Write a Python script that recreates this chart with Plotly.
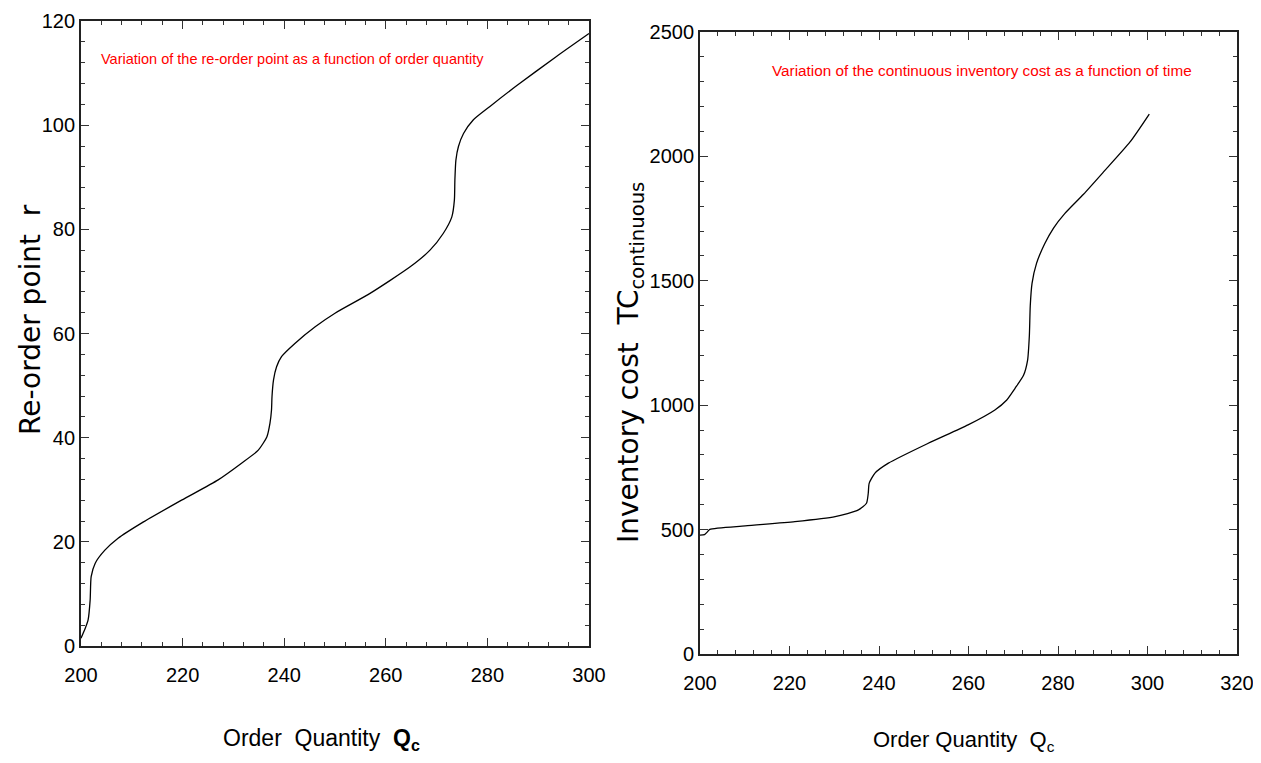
import plotly.graph_objects as go

# ---------------- data ----------------
q_left = [200.0, 200.8, 201.4, 201.8, 202.0, 202.8, 204.7, 207.3, 211.9, 219.8,
          227.0, 231.6, 234.9, 236.6, 237.2, 237.5, 237.6, 237.9, 238.5, 239.5,
          242.1, 246.1, 250.0, 256.9, 264.8, 268.7, 271.3, 273.0, 273.5, 273.6,
          273.8, 274.3, 275.3, 277.2, 280.5, 285.8, 293.6, 300.0]
r_left = [1.5, 3.3, 5.0, 8.8, 13.3, 15.9, 18.4, 20.7, 23.6, 28.0,
          31.9, 35.1, 37.6, 40.2, 42.8, 45.3, 47.9, 51.1, 53.6, 55.6,
          58.1, 61.3, 63.9, 67.7, 72.8, 76.0, 79.2, 82.4, 85.6, 89.5,
          93.3, 95.9, 98.4, 101.0, 103.6, 107.6, 113.2, 117.6]

q_right = [200.0, 201.0, 201.6, 202.2, 210.1, 221.2, 230.2, 235.4, 237.2, 237.6,
           237.8, 239.1, 242.1, 251.0, 259.9, 265.9, 268.5, 270.4, 272.3, 273.2,
           273.6, 273.8, 274.2, 275.2, 277.0, 279.0, 281.5, 285.7, 290.0, 296.1,
           300.4]
tc_right = [478, 480, 490, 501, 515, 532, 552, 579, 606, 646,
            686, 727, 767, 847, 921, 981, 1020, 1068, 1120, 1180,
            1280, 1400, 1490, 1570, 1648, 1712, 1770, 1848, 1934, 2058,
            2170]

x_ticks_left = [200, 220, 240, 260, 280, 300]
y_ticks_left = [0, 20, 40, 60, 80, 100, 120]
x_ticks_right = [200, 220, 240, 260, 280, 300, 320]
y_ticks_right = [0, 500, 1000, 1500, 2000, 2500]

left_title = "Variation of the re-order point as a function of order quantity"
right_title = "Variation of the continuous inventory cost as a function of time"

# ---------------- figure ----------------
PAGE_OFFSET = 8          # default body margin of the html page
W, H = 1261 - 2 * PAGE_OFFSET, 763 - 2 * PAGE_OFFSET
NARROW = "Liberation Sans Narrow, Arial Narrow, Liberation Sans, Arial, sans-serif"
WIDE = "DejaVu Sans, Liberation Sans, Arial, sans-serif"

fig = go.Figure()
fig.add_trace(go.Scatter(x=q_left, y=r_left, mode="lines", xaxis="x", yaxis="y",
                         line=dict(color="black", width=1.3, shape="spline", smoothing=0.6),
                         showlegend=False, hoverinfo="skip"))
fig.add_trace(go.Scatter(x=q_right, y=tc_right, mode="lines", xaxis="x2", yaxis="y2",
                         line=dict(color="black", width=1.3, shape="spline", smoothing=0.6),
                         showlegend=False, hoverinfo="skip"))


def px_x(p):
    return (p - PAGE_OFFSET) / W


def px_y(p):
    return 1 - (p - PAGE_OFFSET) / H


minor_common = dict(ticks="inside", ticklen=4, tickwidth=1, tickcolor="#333")
axis_common = dict(
    showgrid=False, zeroline=False, showline=True, linecolor="#222", linewidth=1.8,
    mirror="ticks", ticks="inside", ticklen=8, tickwidth=1.2, tickcolor="#333",
    tickfont=dict(family=NARROW, size=20, color="black"), automargin=False,
    ticklabeloverflow="allow",
)

fig.update_layout(
    width=W, height=H,
    margin=dict(l=0, r=0, t=0, b=0, autoexpand=False),
    paper_bgcolor="white", plot_bgcolor="white",
    xaxis=dict(axis_common, domain=[px_x(81), px_x(589)], range=[200, 300],
               tickvals=x_ticks_left, anchor="y", minor=dict(minor_common, dtick=4),
               ticklabelstandoff=10),
    yaxis=dict(axis_common, domain=[px_y(646), px_y(21)], range=[0, 120],
               tickvals=y_ticks_left, anchor="x", minor=dict(minor_common, dtick=4),
               ticklabelstandoff=0),
    xaxis2=dict(axis_common, domain=[px_x(700), px_x(1237)], range=[200, 320],
                tickvals=x_ticks_right, anchor="y2", minor=dict(minor_common, dtick=4),
                ticklabelstandoff=10),
    yaxis2=dict(axis_common, domain=[px_y(654), px_y(32)], range=[0, 2500],
                tickvals=y_ticks_right, anchor="x2", minor=dict(minor_common, dtick=100),
                ticklabelstandoff=0),
)

annotations = [
    dict(text=left_title, x=px_x(99), y=px_y(59), xanchor="left", yanchor="middle",
         font=dict(family=NARROW, size=14.5, color="red")),
    dict(text=right_title, x=px_x(770), y=px_y(71), xanchor="left", yanchor="middle",
         font=dict(family=NARROW, size=15.3, color="red")),
    dict(text="Re-order point&nbsp; r", x=px_x(30), y=px_y(320), textangle=-90,
         xanchor="center", yanchor="middle",
         font=dict(family=WIDE, size=28, color="black")),
    dict(text="Inventory cost&nbsp; TC<sub>continuous</sub>", x=px_x(630), y=px_y(363),
         textangle=-90, xanchor="center", yanchor="middle",
         font=dict(family=WIDE, size=28, color="black")),
    dict(text="Order&nbsp; Quantity&nbsp; <b>Q<sub>c</sub></b>", x=px_x(321), y=px_y(739),
         xanchor="center", yanchor="middle",
         font=dict(family=NARROW, size=23, color="black")),
    dict(text="Order Quantity&nbsp; Q<sub>c</sub>", x=px_x(964), y=px_y(741),
         xanchor="center", yanchor="middle",
         font=dict(family=NARROW, size=22, color="black")),
]
for a in annotations:
    a.update(xref="paper", yref="paper", showarrow=False)
fig.update_layout(annotations=annotations)

fig.write_html("out.html")
